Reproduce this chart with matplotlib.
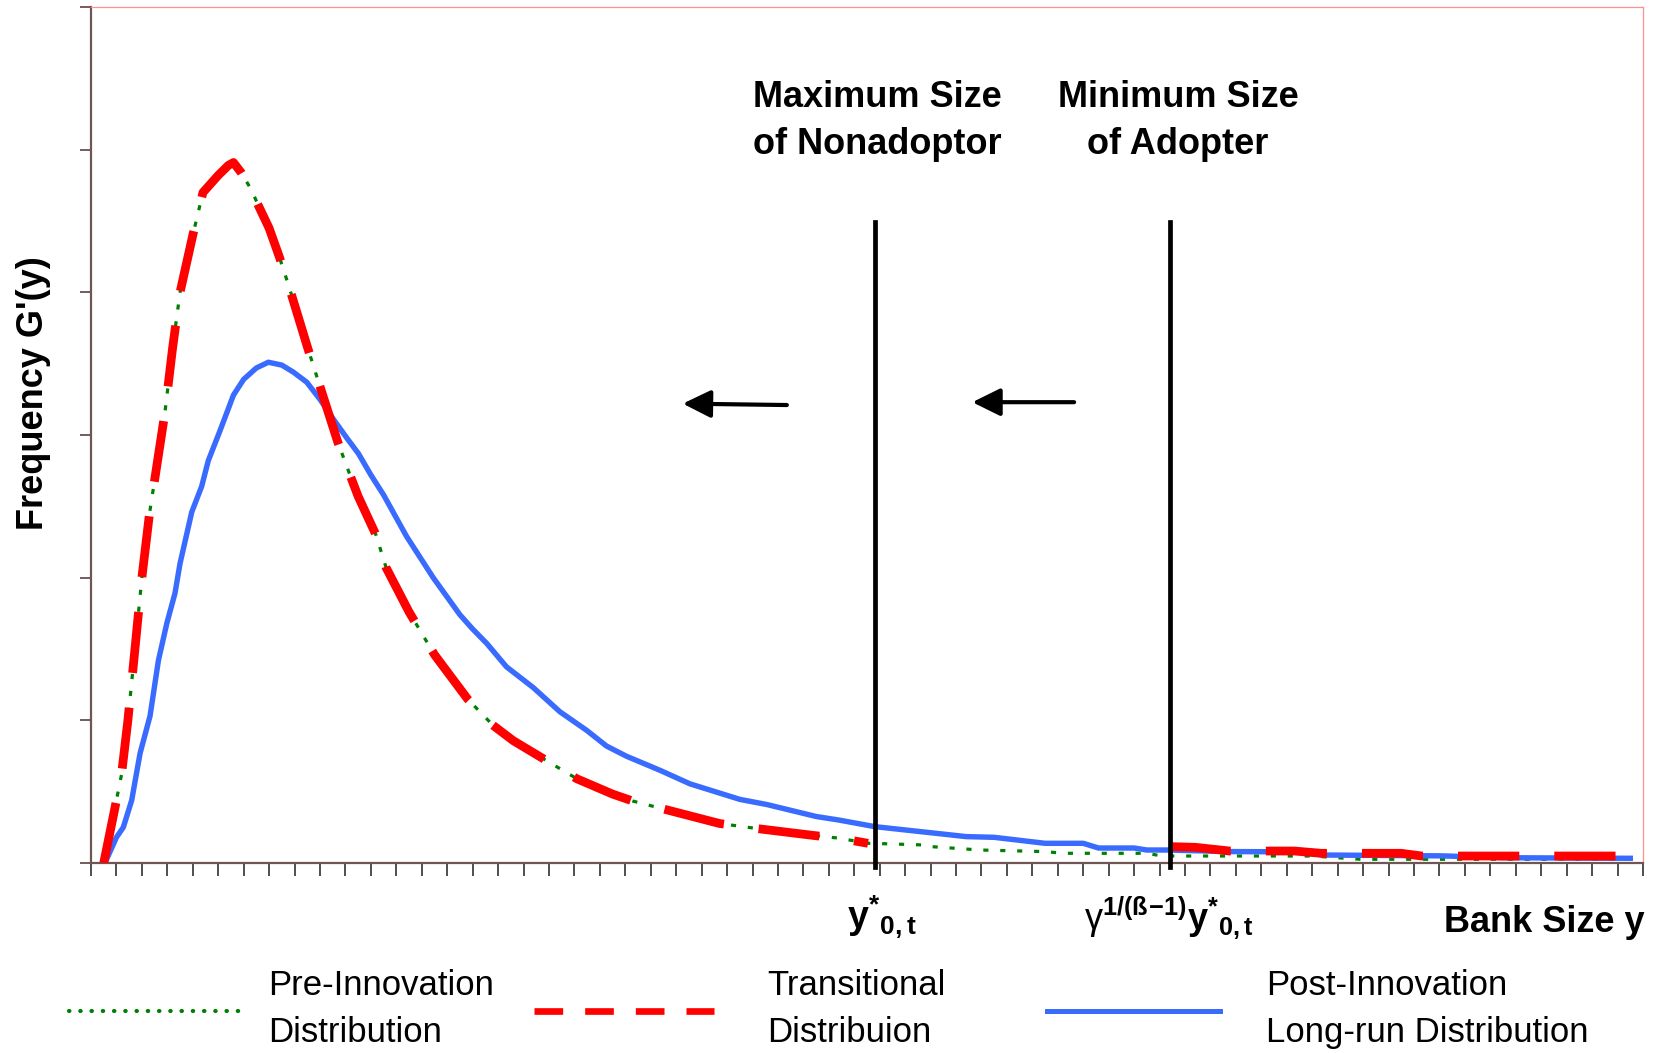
import matplotlib
matplotlib.use('Agg')
import matplotlib.pyplot as plt
from matplotlib.lines import Line2D
import numpy as np

plt.rcParams['font.family'] = ['Liberation Sans', 'DejaVu Sans']
plt.rcParams['mathtext.fontset'] = 'custom'
plt.rcParams['mathtext.rm'] = 'Liberation Sans'
plt.rcParams['mathtext.bf'] = 'Liberation Sans:bold'
plt.rcParams['mathtext.it'] = 'Liberation Sans:italic'
plt.rcParams['mathtext.sf'] = 'Liberation Sans'

# ---------------- data (x in category units of bank size) ----------------
pre_x = [0.5, 0.9, 1.2, 1.45, 1.7, 2.0, 2.3, 2.6, 2.9, 3.2, 3.5, 4.0, 4.4, 5.0, 5.4, 5.6,
         5.9, 6.3, 6.6, 7.0, 7.4, 7.8, 8.5, 9.0, 9.7, 10.2, 10.5, 11.2, 11.6, 12.5, 13.5,
         14.8, 15.8, 16.6, 17.6, 19.1, 20.5, 21.3, 22.6, 24.7, 26.2, 28.4, 29.4, 30.54,
         31.2, 32.8, 33.0, 34.95, 37.5, 38.2, 41.5, 42.1, 48.0, 49.9, 60.5]
pre_y = [0.0, 0.35, 0.62, 1.0, 1.45, 2.0, 2.45, 2.8, 3.15, 3.6, 4.0, 4.4, 4.7, 4.82, 4.89, 4.91,
         4.84, 4.72, 4.6, 4.45, 4.25, 4.03, 3.62, 3.34, 2.95, 2.71, 2.57, 2.3, 2.07, 1.76, 1.46,
         1.15, 0.965, 0.857, 0.75, 0.59, 0.483, 0.434, 0.374, 0.277, 0.241, 0.193, 0.174, 0.138,
         0.135, 0.126, 0.115, 0.091, 0.08, 0.068, 0.068, 0.049, 0.049, 0.026, 0.026]

trans_x = [0.5, 0.9, 1.2, 1.45, 1.7, 2.0, 2.3, 2.6, 2.9, 3.2, 3.5, 4.0, 4.4, 5.0, 5.4, 5.6,
           5.9, 6.3, 6.6, 7.0, 7.4, 7.8, 8.5, 9.0, 9.7, 10.2, 10.5, 11.2, 11.6, 12.5, 13.5,
           14.8, 15.8, 16.6, 17.6, 19.1, 20.5, 21.3, 22.6, 24.7, 26.2, 28.4, 29.4, 30.54,
           np.nan,
           42.4, 43.4, 44.75, 47.3, 48.35, 51.5, 52.3, 60.5]
trans_y = [0.0, 0.35, 0.62, 1.0, 1.45, 2.0, 2.45, 2.8, 3.15, 3.6, 4.0, 4.4, 4.7, 4.82, 4.89, 4.91,
           4.84, 4.72, 4.6, 4.45, 4.25, 4.03, 3.62, 3.34, 2.95, 2.71, 2.57, 2.3, 2.07, 1.76, 1.46,
           1.15, 0.965, 0.857, 0.75, 0.59, 0.483, 0.434, 0.374, 0.277, 0.241, 0.193, 0.174, 0.138,
           np.nan,
           0.115, 0.11, 0.084, 0.084, 0.068, 0.068, 0.049, 0.049]

post_x = [0.55, 1.0, 1.27, 1.6, 1.93, 2.32, 2.65, 2.98, 3.3, 3.5, 3.96, 4.35, 4.61, 5.07, 5.6,
          6.0, 6.5, 6.97, 7.5, 7.96, 8.48, 9.0, 9.53, 10.05, 10.51, 11.0, 11.5, 12.4, 13.45,
          14.5, 15.0, 15.55, 16.33, 17.38, 18.43, 19.48, 20.26, 21.05, 22.36, 23.54, 25.5,
          26.56, 28.5, 29.43, 30.8, 34.4, 35.5, 37.5, 39.0, 39.6, 41.0, 41.5, 42.3, 44.75,
          47.6, 48.4, 53.1, 55.5, 60.5]
post_y = [0.0, 0.18, 0.25, 0.44, 0.77, 1.03, 1.42, 1.68, 1.89, 2.1, 2.46, 2.64, 2.82, 3.03, 3.28,
          3.39, 3.47, 3.51, 3.49, 3.44, 3.37, 3.25, 3.11, 2.98, 2.87, 2.72, 2.58, 2.29, 2.0,
          1.74, 1.64, 1.54, 1.375, 1.23, 1.06, 0.93, 0.82, 0.748, 0.65, 0.555, 0.446,
          0.41, 0.326, 0.3, 0.255, 0.185, 0.18, 0.138, 0.138, 0.105, 0.105, 0.091, 0.091, 0.08,
          0.078, 0.056, 0.05, 0.037, 0.033]

y_star = 30.8        # maximum size of nonadoptor
y_gamma = 42.42      # minimum size of adopter
n_categories = 61
y_ticks = [0, 1, 2, 3, 4, 5, 6]

legend_labels = ['Pre-Innovation\nDistribution', 'Transitional\nDistribuion',
                 'Post-Innovation\nLong-run Distribution']

GREEN = '#008000'
RED = '#ff0000'
BLUE = '#3a6bff'

W, H = 1666, 1053
fig = plt.figure(figsize=(W / 100, H / 100), dpi=100)
ax = fig.add_axes([91 / W, 1 - 863 / H, (1643 - 91) / W, (863 - 7) / H])

ax.plot(pre_x, pre_y, color=GREEN, lw=2.3, dashes=(1.6, 3.7), zorder=2)
ax.plot(post_x, post_y, color=BLUE, lw=3.9, solid_joinstyle='round', zorder=3)
ax.plot(trans_x, trans_y, color=RED, lw=6.3, dashes=(7.0, 4.0), zorder=4)

ax.set_xlim(0, n_categories)
ax.set_ylim(0, 6)
ax.set_xticks(np.arange(0, n_categories + 1))
ax.set_yticks(y_ticks)
ax.set_xticklabels([])
ax.set_yticklabels([])
ax.tick_params(axis='x', direction='out', length=9, width=1.3, colors='#404040')
ax.tick_params(axis='y', direction='out', length=8, width=1.3, colors='#6a5050')
for s in ['left', 'bottom']:
    ax.spines[s].set_color('#705555')
    ax.spines[s].set_linewidth(1.6)
for s in ['top', 'right']:
    ax.spines[s].set_color('#ff9090')
    ax.spines[s].set_linewidth(0.9)

# vertical threshold lines
for xv in (y_star, y_gamma):
    ax.plot([xv, xv], [-0.03, 4.49], color='black', lw=3.4, clip_on=False, zorder=6)

# arrows
arrow_kw = dict(arrowstyle='-|>,head_length=0.85,head_width=0.42', lw=3.0,
                color='black', mutation_scale=20, shrinkA=0, shrinkB=0)
ax.annotate('', xy=(23.26, 3.22), xytext=(27.35, 3.21), arrowprops=arrow_kw)
ax.annotate('', xy=(34.64, 3.23), xytext=(38.64, 3.23), arrowprops=arrow_kw)

# annotations
ax.text(y_star + 0.1, 5.20, 'Maximum Size\nof Nonadoptor', ha='center', va='center',
        fontsize=26, fontweight='bold', linespacing=1.45)
ax.text(y_gamma + 0.3, 5.20, 'Minimum Size\nof Adopter', ha='center', va='center',
        fontsize=26, fontweight='bold', linespacing=1.45)

ax.text(y_star + 0.3, -0.38, r'$\mathbf{y}^{\mathbf{*}}{}_{\mathbf{0,t}}$', ha='center',
        va='center', fontsize=27)
ax.text(y_gamma - 0.05, -0.38,
        r'$\mathrm{γ}^{\mathbf{1/(ß\!-\!1)}}\mathbf{y}^{\mathbf{*}}{}_{\mathbf{0,t}}$',
        ha='center', va='center', fontsize=26)

fig.text(1645 / W, 1 - 922 / H, 'Bank Size y', ha='right', va='center',
         fontsize=26, fontweight='bold')
fig.text(34 / W, 1 - 393 / H, "Frequency G'(y)", ha='center', va='center',
         rotation=90, fontsize=26, fontweight='bold')

# legend (manual, Excel-like)
ly = 1 - 1011 / H
fig.add_artist(Line2D([69 / W, 239 / W], [ly, ly], color=GREEN, lw=3.0,
                      dashes=(0.1, 2.6), dash_capstyle='round'))
fig.add_artist(Line2D([534 / W, 714 / W], [ly, ly], color=RED, lw=4.8,
                      dashes=(4.3, 3.3)))
fig.add_artist(Line2D([1047 / W, 1220 / W], [ly, ly], color=BLUE, lw=3.6))
for px, lab in zip((268, 767, 1266), legend_labels):
    fig.text(px / W, 1 - 1009 / H, lab, ha='left', va='center', fontsize=25,
             linespacing=1.55)

fig.savefig('out.png', dpi=100)
